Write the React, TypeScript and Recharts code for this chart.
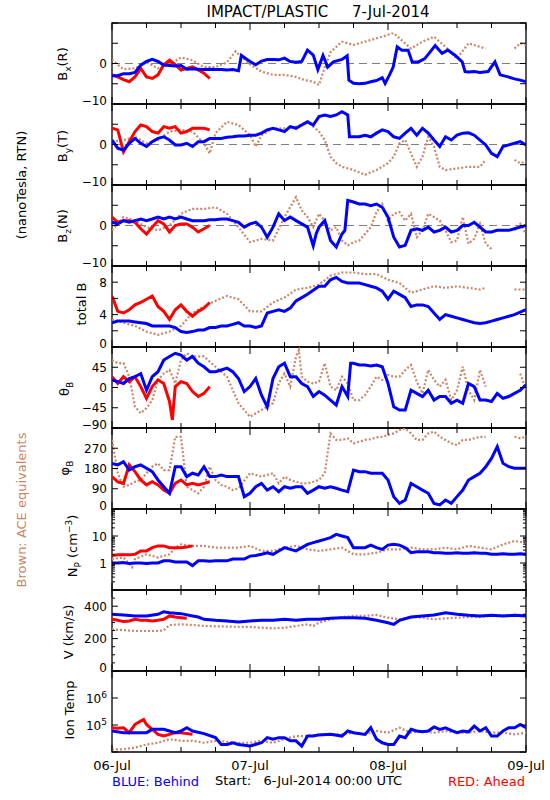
import React from 'react';
import { LineChart, Line, XAxis, YAxis, ReferenceLine, ReferenceArea } from 'recharts';

type P = [number, number | null][];

// ---------- time axis ----------
const HOUR_TICKS = [0, 6, 12, 18, 24, 30, 36, 42, 48, 54, 60, 66, 72];
const DAY_LABELS = ['06-Jul', '07-Jul', '08-Jul', '09-Jul'];

// ---------- Bx (R) ----------
const bxBlue: P = [[0,-3],[1,-3],[2,-2.5],[3,-2.5],[4,-2.2],[5,-0.4],[6,0.5],[7,1],[8,0.5],[9,-0.4],[10,-0.5],[11,-0.6],[12,-0.5],[13,-1.4],[14,-1.3],[15,-1.4],[16,-1.5],[17,-1.4],[18,-1.5],[19,-1.5],[20,-1.6],[21,-1.5],[22,-1.8],[22.5,2],[23,1.5],[24,0.5],[25,-0.3],[26,0.6],[27,1],[28,1],[29,0.9],[30,1.3],[31,0.5],[32,0.3],[33,0.5],[34,3.3],[35,2.1],[35.8,-1.5],[36.7,2],[37.5,-0.9],[38.5,0.4],[40,1],[40.9,1.9],[41.2,-4.1],[42,-4.9],[43,-5],[44,-4.9],[45,-4.5],[46,-4.2],[47,-3.5],[47.5,-4.9],[48.3,-2.7],[48.9,-0.9],[49.6,4.1],[50.4,3.3],[51.5,3.3],[52.2,0.4],[53.3,0.4],[54.4,1.2],[55.3,2.8],[56.2,4.4],[57.4,2.5],[58.4,3.3],[59.7,2],[60.9,0.4],[61.4,-2],[62,-2.1],[63,-2],[64,-2.2],[65.4,-2],[66.6,0.4],[67.5,-2.8],[68.9,-3.3],[70,-3.8],[71,-4.1],[72,-4.5]];
const bxBrown: P = [[0,1],[1,-0.3],[2,-1.4],[4,-1.2],[6,0.3],[8,-1.2],[10,-0.3],[12,1.5],[14,0.8],[16,-0.9],[18,-0.9],[20,0.3],[21.5,3],[22,2.3],[24,-0.2],[26,-2],[28,-2.8],[30,-2.8],[32,-3.3],[33.5,-4.1],[35,-4.5],[36,-5.3],[37,-0.9],[38,2.8],[40,5.4],[42,4.6],[44,5.4],[46,6.2],[48,7.1],[49,7.5],[50,6.2],[52,3.7],[54,5.4],[56,6.6],[58,4.1],[60,1.2],[62,5],[64,4.1],[65,3.7],[65.5,null],[70,3.7],[71,5],[72,4.6]];
const bxRed: P = [[0,-2.8],[1,-3.3],[2,-4],[3,-4.5],[4,-3.3],[5,-1.2],[6,-3.3],[7,-3.7],[8,-2.8],[9,-0.3],[10,0.8],[11,-0.3],[12,-1.6],[13,-1.2],[14,-0.8],[15,-1.6],[16,-2.4],[17,-3.7]];

// ---------- By (T) ----------
const byBlue: P = [[0,1.1],[1,-0.9],[2,-1.4],[3,0.3],[4,1.5],[5,0.3],[6,-0.5],[7,0.7],[8,1.5],[9,1.9],[10,1.1],[11,-0.1],[12,-0.1],[13,0.3],[14,-0.5],[15,0.7],[16,0.7],[17,1.5],[18,1.5],[19,1.5],[20,1.8],[21,1.9],[22,2.1],[23,2.1],[24,2.3],[25,2.3],[26,2.8],[27,3.6],[28,4],[29,3.6],[30,3.2],[31,4.4],[32,4],[33,4.8],[34,5.6],[35,4.8],[36,6.9],[37,7.3],[38,6.9],[39,7.3],[40,8.1],[41,7.3],[41.3,1.9],[42,1.9],[43,1.9],[44,2.3],[45,1.9],[46,2.8],[47,3.6],[48,3.2],[49,1.9],[50,1.5],[51,2.8],[52,4],[53,2.3],[54,4],[55,2.8],[56,1.1],[57,-0.5],[58,1.9],[59,1.1],[60,2.3],[61,2.8],[62,2.9],[63,2.3],[64,1.1],[65,-0.1],[66,-2.2],[67,-3],[68,-0.5],[69,-0.1],[70,0.3],[71,0.7],[72,-0.1]];
const byBrown: P = [[0,0.7],[2,1.1],[4,1.9],[6,0.3],[8,1.1],[10,3.2],[12,3.6],[14,3.2],[16,0.3],[17,-2.2],[18,2.8],[20,5.6],[22,4.8],[24,2.3],[25,-0.5],[26,2.3],[28,4],[30,4],[32,4.4],[34,5.6],[35,4.4],[36,3.2],[37,1.1],[38,-3],[39,-4.6],[40,-5.5],[42,-6.3],[44,-7.5],[46,-6.3],[48,-4.6],[49,-3],[50,0.3],[51,1.1],[52,-2.2],[53,-5.5],[54,-3],[55,1.9],[56,-0.5],[57,-5.5],[58,-6.3],[60,-5.9],[62,-5.5],[64,-5.5],[65,-3.8],[65.5,null],[70,-3.8],[71,-4.6],[72,-4.2]];
const byRed: P = [[0,4],[1,3.6],[2,-1.8],[3,0.7],[4,3.2],[5,4.8],[6,4.4],[7,3.2],[8,2.8],[9,4.4],[10,4],[11,4.4],[12,2.8],[13,3.2],[14,4],[15,4],[16,4],[17,3.6]];

// ---------- Bz (N) ----------
const bzBlue: P = [[0,0.8],[1,0.4],[2,1.2],[3,0.8],[4,1.2],[5,1.6],[6,1.2],[7,1.6],[8,2.1],[9,1.6],[10,2.1],[11,1.6],[12,2.1],[13,1.6],[14,1.2],[15,1.2],[16,1.2],[17,1.4],[18,1.4],[19,1.6],[20,1.6],[21,1.2],[22,0.8],[23,-0.4],[24,0.4],[25,0.8],[26,-0.4],[27,-2.9],[28,-0.4],[29,2.9],[30,1.2],[31,2.1],[32,1.2],[33,0.4],[34,-0.4],[35,-5],[35.5,-2.1],[36,-0.4],[37,1.2],[38,-3.7],[39,-5.3],[40,-2.1],[40.5,-1.2],[41,6.2],[42,5.8],[43,5.3],[44,5.3],[45,4.9],[46,5.3],[47,4.5],[48,2.1],[49,-2.9],[50,-5.3],[51,-4.9],[52,-1.2],[53,-0.8],[54,-1.2],[55,-0.4],[56,-1.6],[57,-1.2],[58,-0.4],[59,-1.6],[60,-1.2],[61,0],[62,0],[63,0.8],[64,-0.4],[65,-1.6],[66,-1.6],[67,-1.2],[68,-1.2],[69,-1.2],[70,-0.8],[71,-0.4],[72,0]];
const bzBrown: P = [[0,-1.2],[2,2.1],[4,1.2],[6,-0.4],[8,-1.2],[10,0],[12,2.9],[14,4.1],[16,4.1],[18,4.5],[20,2.9],[22,-0.4],[24,-4.1],[25,-3.7],[26,-3.3],[28,-3.7],[30,2.1],[32,7],[33,3.7],[34,2.1],[35,-0.4],[36,2.9],[37,1.2],[38,-1.2],[39,-0.4],[40,-3.7],[41,-4.9],[42,-4.1],[43,-3.7],[44,-2.1],[45,-0.4],[46,3.3],[47,5.3],[48,1.2],[49,2.9],[50,3.3],[51,1.2],[52,2.9],[53,-2.9],[54,-1.2],[55,2.9],[56,2.1],[57,1.2],[58,-1.2],[59,-4.1],[60,-3.7],[61,2.1],[62,-4.5],[63,-3.3],[64,0.4],[65,-4.5],[66,-5.8],[66.5,null],[70,-1.2],[71,0.4],[72,-2.1]];
const bzRed: P = [[0,2.1],[1,0.8],[2,1.2],[3,1.2],[4,0.8],[5,-0.8],[6,-2.1],[7,-0.4],[8,1.2],[9,0.4],[10,-1.6],[11,0],[12,0.4],[13,0.4],[14,-0.4],[15,-1.6],[16,-0.8],[17,0]];

// ---------- total B ----------
const btBlue: P = [[0,3],[1,3.2],[2,3.2],[3,3.2],[4,3.1],[5,3],[6,2.9],[7,2.6],[8,2.6],[9,2.6],[10,2.6],[11,2.4],[12,1.9],[13,1.8],[14,1.9],[15,2.1],[16,2.1],[17,2.4],[18,2.4],[19,2.6],[20,2.6],[21,2.8],[22,3],[23,2.6],[24,2.6],[25,2.4],[26,2.6],[27,4.2],[28,4.4],[29,4.6],[30,4.4],[31,4.8],[32,5.7],[33,6.1],[34,6.5],[35,7],[36,7.5],[37,7.5],[38,8.3],[39,8.6],[40,8.1],[41,7.9],[42,7.9],[43,7.9],[44,7.7],[45,7.5],[46,7.3],[47,6.9],[48,5.9],[49,6.9],[50,6.5],[51,6.1],[52,5],[53,5.2],[54,5.2],[55,5],[56,4.2],[57,3.4],[58,4],[59,3.8],[60,3.6],[61,3.4],[62,3.2],[63,3],[64,2.9],[65,3],[66,3.2],[67,3.4],[68,3.6],[69,3.8],[70,4],[71,4.3],[72,4.6]];
const btBrown: P = [[0,3.4],[2,3],[4,2.6],[6,1.9],[8,1.5],[10,1.9],[12,2.6],[14,4.2],[16,5],[18,5.7],[20,6.3],[22,5.9],[24,4.4],[26,4.4],[28,5.5],[30,6.1],[32,7.1],[34,7.3],[36,7.7],[38,8.8],[40,9.2],[42,9.2],[44,9],[46,9],[48,8.3],[50,7.9],[52,6.7],[54,7.1],[56,7.5],[58,7.3],[60,7.5],[62,7.3],[64,7.1],[65,7.3],[65.5,null],[70,7.1],[72,7.1]];
const btRed: P = [[0,6.3],[1,4.4],[2,4.2],[3,4.6],[4,5.2],[5,5.5],[6,5.9],[7,6.3],[8,5],[9,4.4],[10,3.4],[11,4.6],[12,5.2],[13,4.4],[14,3.8],[15,4.4],[16,4.8],[17,5.5]];

// ---------- theta B ----------
const thBlue: P = [[0,17],[1,13],[2,9],[3,20],[4,24],[5,31],[6,-6],[7,24],[8,35],[9,61],[10,69],[11,76],[12,72],[13,61],[14,69],[15,54],[16,46],[17,35],[18,35],[19,39],[20,43],[21,35],[22,20],[23,-9],[24,2],[25,20],[26,-17],[27,-43],[28,20],[29,46],[30,54],[31,24],[32,24],[33,9],[34,2],[35,-20],[36,-9],[37,-17],[38,-28],[39,-39],[40,2],[41,-20],[41.5,54],[42,54],[43,50],[44,50],[45,48],[46,50],[47,46],[48,9],[49,-43],[50,-50],[51,-50],[52,-6],[53,-13],[54,-20],[55,-6],[56,-28],[57,-20],[58,-20],[59,-35],[60,-28],[61,-35],[62,9],[63,2],[64,-28],[65,-28],[66,-31],[67,-13],[68,-24],[69,-20],[70,-13],[71,-6],[72,6]];
const thBrown: P = [[0,61],[1,54],[2,54],[3,24],[4,-43],[5,-57],[6,-46],[7,-28],[8,17],[9,31],[10,39],[11,9],[12,61],[13,76],[14,69],[16,69],[18,46],[20,24],[22,-35],[24,-65],[26,-50],[28,-35],[29,9],[30,31],[31,2],[32,69],[32.5,83],[33,24],[34,13],[35,9],[36,13],[37,54],[38,2],[39,-6],[40,24],[41,9],[42,-28],[43,-28],[44,-17],[45,2],[46,24],[47,17],[48,28],[49,24],[50,24],[51,39],[52,50],[53,13],[54,-13],[55,39],[56,17],[57,2],[58,17],[59,-28],[60,-6],[61,46],[62,-6],[63,-28],[64,39],[65,2],[65.5,null],[71,31],[72,-6]];
const thRed: P = [[0,24],[1,9],[2,24],[3,13],[4,24],[5,2],[6,-24],[7,2],[8,17],[9,9],[10,-31],[10.5,-72],[11,2],[12,13],[13,9],[14,-9],[15,-20],[16,-13],[17,2]];

// ---------- phi B ----------
const phBlue: P = [[0,203],[1,196],[2,210],[3,173],[4,188],[5,196],[6,181],[7,166],[8,129],[9,99],[10,70],[11,188],[12,188],[13,144],[14,159],[15,151],[16,188],[17,144],[18,144],[19,151],[20,144],[21,144],[22,144],[23,55],[24,70],[25,99],[26,114],[27,84],[28,99],[29,77],[30,99],[31,92],[32,99],[33,99],[34,70],[35,84],[36,99],[37,92],[38,99],[39,92],[40,84],[41,77],[42,173],[43,166],[44,166],[45,159],[46,159],[47,159],[48,129],[49,55],[50,25],[51,40],[52,114],[53,99],[54,84],[55,70],[56,25],[57,18],[58,40],[59,25],[60,55],[61,84],[62,129],[63,144],[64,159],[65,188],[66,225],[67,277],[68,203],[69,188],[70,181],[71,181],[72,181]];
const phBrown: P = [[0,307],[1,159],[2,99],[3,107],[4,121],[5,129],[6,159],[7,188],[8,203],[9,173],[10,173],[11,321],[12,321],[13,99],[14,84],[15,70],[16,99],[17,188],[18,129],[19,107],[20,99],[21,84],[22,92],[24,159],[26,144],[28,159],[29,114],[30,144],[31,129],[32,121],[33,114],[34,114],[35,121],[36,129],[37,159],[38,336],[39,307],[40,307],[41,314],[42,292],[43,299],[44,307],[45,310],[46,318],[47,321],[48,329],[49,336],[50,351],[51,358],[52,336],[53,307],[54,307],[55,336],[56,344],[57,321],[58,307],[59,292],[60,284],[61,307],[62,307],[63,314],[64,321],[65,321],[65.5,null],[70,321],[71,314],[72,321]];
const phRed: P = [[0,144],[1,121],[2,114],[3,196],[4,166],[5,129],[6,107],[7,121],[8,107],[9,84],[10,70],[11,114],[12,129],[13,107],[14,114],[15,107],[16,114],[17,121]];

// ---------- Np (cm^-3) ----------
const npBlue: P = [[0,1],[1,1],[2,1.05],[3,0.95],[4,1],[5,1],[6,0.95],[7,1],[8,1],[9,1.2],[10,1.2],[11,1.1],[12,1.1],[13,1.1],[14,0.8],[15,1.2],[16,1.2],[17,1.15],[18,1.2],[19,1.2],[20,1.2],[21,1.4],[22,1.4],[23,1.4],[24,1.8],[25,1.9],[26,2.1],[27,2.4],[28,2.1],[29,2.8],[30,3.7],[31,3.2],[32,2.8],[33,3.7],[34,4.9],[35,5.7],[36,6.5],[37,7.5],[38,8.7],[39,11.5],[40,10],[41,8.7],[42,3.7],[43,3.7],[44,3.7],[45,4.6],[46,3.7],[47,3.2],[48,4.6],[49,4.9],[50,4.6],[51,3.7],[52,2.4],[53,2.6],[54,2.6],[55,2.6],[56,2.4],[57,2.4],[58,2.3],[59,2.3],[60,2.4],[61,2.3],[62,2.3],[63,2.4],[64,2.3],[65,2.3],[66,2.1],[67,2.1],[68,2.2],[69,2.1],[70,2.1],[71,2.2],[72,2.1]];
const npBrown: P = [[0,1.4],[2,1.6],[3.5,0.7],[4,1.4],[6,2.1],[8,1.6],[10,2.1],[11,3.7],[12,4.9],[14,4.3],[16,4.3],[18,3.7],[20,3.7],[22,3.7],[24,4.3],[26,2.8],[28,2.8],[30,3.7],[32,4.3],[34,3.2],[36,2.8],[38,3.2],[40,3.7],[42,2.1],[44,2.1],[46,2.4],[48,3.2],[50,3.2],[52,3.7],[54,3.2],[56,3.2],[58,3.7],[60,3.2],[62,4.3],[64,3.7],[66,3.2],[68,4.9],[70,6.5],[72,5.7]];
const npRed: P = [[0,1.9],[1,2],[2,2],[3,2],[4,2.1],[5,2.8],[6,2.8],[7,3.7],[8,4.3],[9,4.3],[10,3.7],[11,3.7],[12,3.7],[13,3.9],[14,4.3]];

// ---------- V (km/s) ----------
const vBlue: P = [[0,350],[2,346],[4,340],[6,340],[8,350],[9,366],[10,360],[12,354],[14,340],[15,333],[16,319],[18,313],[20,309],[22,302],[24,309],[26,313],[28,313],[30,319],[32,313],[34,319],[36,319],[38,325],[40,329],[42,329],[44,325],[46,313],[48,298],[49,288],[50,313],[52,333],[54,340],[56,346],[58,360],[60,350],[62,344],[64,340],[66,344],[68,340],[70,344],[72,340]];
const vBrown: P = [[0,257],[4,247],[8,247],[9,251],[10,284],[12,288],[14,284],[16,278],[20,274],[24,272],[28,263],[30,267],[32,278],[34,288],[35,278],[36,298],[38,319],[40,333],[42,340],[44,340],[46,346],[48,329],[50,319],[52,333],[54,329],[56,319],[58,325],[60,329],[62,333],[64,333],[66,340],[68,344],[70,346],[72,346]];
const vRed: P = [[0,319],[1,313],[2,305],[3,309],[4,319],[5,313],[6,313],[7,309],[8,313],[9,319],[10,340],[11,333],[12,329],[13,325]];

// ---------- Ion Temp (K) ----------
const tBlue: P = [[0,6.0e4],[2,5.2e4],[4,5.2e4],[6,5.2e4],[7,6.9e4],[8,6.9e4],[9,6.9e4],[10,6.0e4],[11,5.2e4],[12,6.0e4],[13,7.9e4],[14,6.0e4],[16,4.8e4],[18,3.4e4],[19,1.9e4],[20,1.9e4],[21,2.2e4],[22,1.9e4],[24,1.66e4],[26,2.2e4],[27,3.4e4],[28,3.0e4],[29,3.4e4],[30,3.4e4],[31,2.6e4],[32,2.6e4],[33,1.66e4],[34,3.9e4],[35,3.9e4],[36,4.3e4],[38,4.5e4],[40,3.9e4],[41,6.0e4],[42,5.2e4],[44,4.5e4],[45,7.9e4],[46,3.0e4],[47,2.2e4],[48,1.9e4],[49,1.9e4],[50,3.9e4],[51,3.4e4],[52,6.9e4],[53,6.0e4],[54,5.6e4],[55,6.0e4],[56,8.5e4],[57,6.9e4],[58,7.9e4],[59,6.3e4],[60,5.2e4],[61,6.0e4],[62,5.6e4],[63,9.1e4],[64,6.0e4],[65,7.9e4],[66,3.9e4],[67,3.9e4],[68,6.0e4],[69,7.9e4],[70,7.9e4],[71,1.05e5],[72,7.9e4]];
const tBrown: P = [[0,1.26e4],[2,1.26e4],[4,1.45e4],[6,1.9e4],[8,2.2e4],[10,3.0e4],[12,2.6e4],[14,2.6e4],[16,2.2e4],[18,2.6e4],[20,2.4e4],[22,2.2e4],[24,2.2e4],[26,2.6e4],[28,2.2e4],[30,3.0e4],[32,3.9e4],[34,3.9e4],[36,4.5e4],[38,4.5e4],[40,4.5e4],[42,5.2e4],[44,4.5e4],[46,6.0e4],[48,5.2e4],[50,7.9e4],[52,5.2e4],[54,6.0e4],[56,5.2e4],[58,6.0e4],[60,5.2e4],[62,5.2e4],[64,6.0e4],[66,5.2e4],[68,5.2e4],[70,4.5e4],[72,5.2e4]];
const tRed: P = [[0,7.9e4],[1,7.6e4],[2,7.9e4],[3,5.2e4],[4,1.05e5],[5,1.4e5],[5.5,1.6e5],[6,1.05e5],[7,6.9e4],[8,4.5e4],[9,3.9e4],[10,4.5e4],[11,5.2e4],[12,5.2e4],[13,4.8e4],[14,4.5e4]];

// ---------- y-axis ticks ----------
const B_TICKS = [-10, -5, 0, 5, 10];
const BT_TICKS = [0, 2, 4, 6, 8, 10];
const TH_TICKS = [-90, -45, 0, 45, 90];
const PH_TICKS = [0, 90, 180, 270, 360];
const NP_MAJOR = [0.1, 1, 10, 100];
const NP_MINOR = [0.2, 0.3, 0.4, 0.5, 0.6, 0.7, 0.8, 0.9, 2, 3, 4, 5, 6, 7, 8, 9, 20, 30, 40, 50, 60, 70, 80, 90];
const V_MAJOR = [0, 200, 400];
const V_MINOR = [50, 100, 150, 250, 300, 350, 450, 500];
const T_TICKS = [1e4, 1e5, 1e6, 1e7];

// ---------- layout / style ----------
const FONT = "'DejaVu Sans', sans-serif";
const BLUE = '#0000ff';
const RED = '#ff0000';
const BROWN = '#c8876a';
const TOP0 = 23;
const PH = 81;
const LEFT = 112;
const PW = 414;
const MT = 10;
const XH = 1;

const toData = (p: P) => p.map(([h, v]) => ({ h, v }));

const fmt = (v: number) => (v < 0 ? '\u2212' + Math.abs(v) : String(v));

type PanelCfg = {
  blue: P; red: P; brown: P;
  domain: [number, number];
  ticks: number[];
  minor?: number[];
  labels: Record<string, React.ReactNode>;
  log?: boolean;
  zero?: boolean;
};

const sup = (base: string, e: string) => (
  <>
    {base}
    <tspan dy={-5} fontSize={9}>{e}</tspan>
  </>
);

const PANELS: PanelCfg[] = [
  { blue: bxBlue, red: bxRed, brown: bxBrown, domain: [-10, 10], ticks: B_TICKS, labels: { '-10': fmt(-10), '0': '0' }, zero: true },
  { blue: byBlue, red: byRed, brown: byBrown, domain: [-10, 10], ticks: B_TICKS, labels: { '-10': fmt(-10), '0': '0' }, zero: true },
  { blue: bzBlue, red: bzRed, brown: bzBrown, domain: [-10, 10], ticks: B_TICKS, labels: { '-10': fmt(-10), '0': '0' }, zero: true },
  { blue: btBlue, red: btRed, brown: btBrown, domain: [0, 10], ticks: BT_TICKS, labels: { '0': '0', '4': '4', '8': '8' } },
  { blue: thBlue, red: thRed, brown: thBrown, domain: [-90, 90], ticks: TH_TICKS, labels: { '-90': fmt(-90), '-45': fmt(-45), '0': '0', '45': '45' } },
  { blue: phBlue, red: phRed, brown: phBrown, domain: [0, 360], ticks: PH_TICKS, labels: { '0': '0', '90': '90', '180': '180', '270': '270' } },
  { blue: npBlue, red: npRed, brown: npBrown, domain: [0.1, 100], ticks: [...NP_MAJOR, ...NP_MINOR], minor: NP_MINOR, labels: { '1': '1', '10': '10' }, log: true },
  { blue: vBlue, red: vRed, brown: vBrown, domain: [0, 500], ticks: [...V_MAJOR, ...V_MINOR], minor: V_MINOR, labels: { '0': '0', '200': '200', '400': '400' } },
  { blue: tBlue, red: tRed, brown: tBrown, domain: [1e4, 1e7], ticks: T_TICKS, labels: { '100000': sup('10', '5'), '1000000': sup('10', '6') }, log: true },
];

function YTick(props: any) {
  const { x, y, payload, cfg } = props;
  const v: number = payload.value;
  const isMinor = cfg.minor ? cfg.minor.includes(v) : false;
  const len = isMinor ? 3 : 6;
  const lab = cfg.labels[String(v)];
  const ty = v === cfg.domain[0] ? y - 4 : y;
  return (
    <g>
      <line x1={x} y1={y} x2={x + len} y2={y} stroke="#000" strokeWidth={1} />
      <line x1={x + PW} y1={y} x2={x + PW - len} y2={y} stroke="#000" strokeWidth={1} />
      {lab != null && (
        <text x={x - 5} y={ty + 4.5} textAnchor="end" fontSize={12} fontFamily={FONT} fill="#000">
          {lab}
        </text>
      )}
    </g>
  );
}

function XTick(props: any) {
  const { x, y, payload, last } = props;
  const v: number = payload.value;
  const day = v % 24 === 0;
  const len = day ? 7 : 5;
  return (
    <g>
      <line x1={x} y1={y} x2={x} y2={y - len} stroke="#000" strokeWidth={1} />
      <line x1={x} y1={y - PH} x2={x} y2={y - PH + len} stroke="#000" strokeWidth={1} />
      {last && day && (
        <text x={x} y={y + 18} textAnchor="middle" fontSize={13} fontFamily={FONT} fill="#000">
          {DAY_LABELS[v / 24]}
        </text>
      )}
    </g>
  );
}

function Panel({ cfg, index, last }: { cfg: PanelCfg; index: number; last: boolean }) {
  const mb = last ? 30 : 10;
  const top = TOP0 + PH * index - MT;
  const h = PH + MT + mb + XH;
  return (
    <div style={{ position: 'absolute', left: 0, top, width: 550, height: h }}>
      <LineChart width={550} height={h} margin={{ top: MT, right: 550 - LEFT - PW, bottom: mb, left: 0 }}>
        <XAxis
          type="number"
          dataKey="h"
          domain={[0, 72]}
          ticks={HOUR_TICKS}
          interval={0}
          height={XH}
          tickSize={0}
          tickMargin={0}
          tickLine={false}
          axisLine={false}
          allowDataOverflow
          tick={(p: any) => <XTick {...p} last={last} />}
        />
        <YAxis
          type="number"
          width={LEFT}
          domain={cfg.domain}
          scale={cfg.log ? 'log' : 'linear'}
          ticks={cfg.ticks}
          interval={0}
          tickSize={0}
          tickMargin={0}
          tickLine={false}
          axisLine={false}
          allowDataOverflow
          tick={(p: any) => <YTick {...p} cfg={cfg} />}
        />
        {cfg.zero && <ReferenceLine y={0} stroke="#7f7f7f" strokeWidth={1.2} strokeDasharray="8 5" />}
        <Line data={toData(cfg.brown)} dataKey="v" type="linear" stroke={BROWN} strokeWidth={2.2} strokeDasharray="2 2" dot={false} connectNulls={false} isAnimationActive={false} />
        <Line data={toData(cfg.red)} dataKey="v" type="linear" stroke={RED} strokeWidth={3} dot={false} connectNulls={false} isAnimationActive={false} />
        <Line data={toData(cfg.blue)} dataKey="v" type="linear" stroke={BLUE} strokeWidth={3} dot={false} connectNulls={false} isAnimationActive={false} />
        <ReferenceArea x1={0} x2={72} y1={cfg.domain[0]} y2={cfg.domain[1]} fill="none" fillOpacity={0} stroke="#000" strokeWidth={1.3} ifOverflow="visible" />
      </LineChart>
    </div>
  );
}

function RotText({ x, y, children, color = '#000', size = 13 }: { x: number; y: number; children: React.ReactNode; color?: string; size?: number }) {
  return (
    <text x={x} y={y} transform={`rotate(-90 ${x} ${y})`} textAnchor="middle" fontSize={size} fontFamily={FONT} fill={color}>
      {children}
    </text>
  );
}

export default function App() {
  return (
    <div style={{ position: 'absolute', left: 0, top: 0, width: 550, height: 800, background: '#fff', overflow: 'hidden' }}>
      {PANELS.map((cfg, i) => (
        <Panel key={i} cfg={cfg} index={i} last={i === PANELS.length - 1} />
      ))}
      <svg width={550} height={800} style={{ position: 'absolute', left: 0, top: 0, pointerEvents: 'none' }}>
        <text x={318} y={17} textAnchor="middle" fontSize={15} fontFamily={FONT} fill="#000" style={{ whiteSpace: 'pre' }}>
          {'IMPACT/PLASTIC     7-Jul-2014'}
        </text>
        <RotText x={26} y={185}>(nanoTesla, RTN)</RotText>
        <RotText x={26} y={510} color={BROWN}>Brown: ACE equivalents</RotText>
        <RotText x={67} y={64}>B<tspan dy={4} fontSize={9}>x</tspan><tspan dy={-4}>(R)</tspan></RotText>
        <RotText x={67} y={146}>B<tspan dy={4} fontSize={9}>y</tspan><tspan dy={-4}>(T)</tspan></RotText>
        <RotText x={67} y={226}>B<tspan dy={4} fontSize={9}>z</tspan><tspan dy={-4}>(N)</tspan></RotText>
        <RotText x={86} y={304}>total B</RotText>
        <RotText x={69} y={389}>θ<tspan dy={4} fontSize={9}>B</tspan></RotText>
        <RotText x={69} y={468}>φ<tspan dy={4} fontSize={9}>B</tspan></RotText>
        <RotText x={77} y={546}>
          N<tspan dy={4} fontSize={9}>P</tspan><tspan dy={-4}> (cm</tspan><tspan dy={-5} fontSize={9}>{'\u2212'}3</tspan><tspan dy={5}>)</tspan>
        </RotText>
        <RotText x={73} y={632}>V (km/s)</RotText>
        <RotText x={74} y={710}>Ion Temp</RotText>
        <text x={112} y={786} fontSize={13} fontFamily={FONT} fill={BLUE}>BLUE: Behind</text>
        <text x={215} y={785} fontSize={13} fontFamily={FONT} fill="#000" style={{ whiteSpace: 'pre' }}>
          {'Start:   6-Jul-2014 00:00 UTC'}
        </text>
        <text x={525} y={786} textAnchor="end" fontSize={13} fontFamily={FONT} fill={RED}>RED: Ahead</text>
      </svg>
    </div>
  );
}
